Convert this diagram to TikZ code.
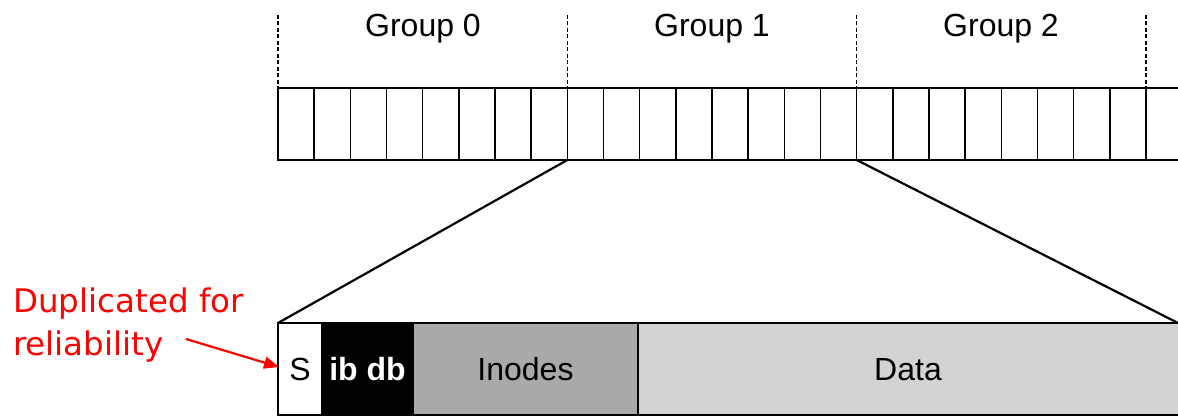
\documentclass[tikz,border=0pt]{standalone}
\usepackage{fontspec}
\setmainfont{Liberation Sans}
\newfontfamily\notefont{DejaVu Sans}
\usetikzlibrary{arrows.meta}
\definecolor{inodegray}{HTML}{A9A9A9}
\definecolor{datagray}{HTML}{D3D3D3}
\definecolor{notered}{HTML}{FF0000}
\begin{document}
\begin{tikzpicture}[x=1pt,y=-1pt,
  cell/.style={draw,line width=1.6pt,minimum width=36.17pt,minimum height=72pt,inner sep=0pt,outer sep=0pt,anchor=north west},
  sep/.style={line width=1.4pt,dash pattern=on 4pt off 2.5pt},
  grouplabel/.style={font=\fontsize{32}{38}\selectfont,anchor=base},
  part/.style={draw,line width=1.6pt,minimum height=92pt,inner sep=0pt,outer sep=0pt,anchor=north west,
     font=\fontsize{32}{38}\selectfont,text height=22.5pt,text depth=0pt},
  note/.style={font=\notefont\fontsize{32.5}{38}\selectfont,text=notered,anchor=base west,inner sep=0pt},
  zoomline/.style={line width=2.2pt},
]
\useasboundingbox (0,0) rectangle (1178,417);
% block row
\foreach \i in {0,...,23}{
  \node[cell] (c\i) at ({278+\i*36.1667},88) {};
}
\coordinate (rt) at (1180,88);
\coordinate (rb) at (1180,160);
\draw[line width=1.6pt] (c23.north east) -- (rt);
\draw[line width=1.6pt] (c23.south east) -- (rb);
% group separators
\foreach \i/\n in {0/a,8/b,16/c}{
  \coordinate (s\n) at ([yshift=73pt]c\i.north west);
  \draw[sep] (s\n) -- (c\i.north west);
}
\coordinate (sd) at ([yshift=73pt]c23.north east);
\draw[sep] (sd) -- (c23.north east);
% group labels
\node[grouplabel] (g0) at (423,37) {Group 0};
\node[grouplabel] (g1) at (712,37) {Group 1};
\node[grouplabel] (g2) at (1001,37) {Group 2};
% bottom bar
\node[part,fill=white,minimum width=44pt] (S) at (278,323) {S};
\node[part,fill=black,text=white,minimum width=91pt,font=\bfseries\fontsize{32}{38}\selectfont] (ibdb) at (S.north east) {ib db};
\node[part,fill=inodegray,minimum width=225pt] (inodes) at (ibdb.north east) {Inodes};
\node[part,fill=datagray,minimum width=545pt] (data) at (inodes.north east) {};
\node[font=\fontsize{32}{38}\selectfont,text height=22.5pt,text depth=0pt,inner sep=0pt] (datalbl) at (908,369) {Data};
\coordinate (dataend) at (1178,323);
% zoom lines
\draw[zoomline] (c8.south west) -- (S.north west);
\draw[zoomline] (c15.south east) -- (dataend);
% note
\node[note] (n1) at (13,312) {Duplicated for};
\node[note] (n2) at (13,355) {reliability};
\coordinate (astart) at (186,339);
\draw[notered,line width=2.2pt,-{Triangle[length=15pt,width=12pt]}] (astart) -- ([xshift=1pt,yshift=2pt]S.west);
\end{tikzpicture}
\end{document}
